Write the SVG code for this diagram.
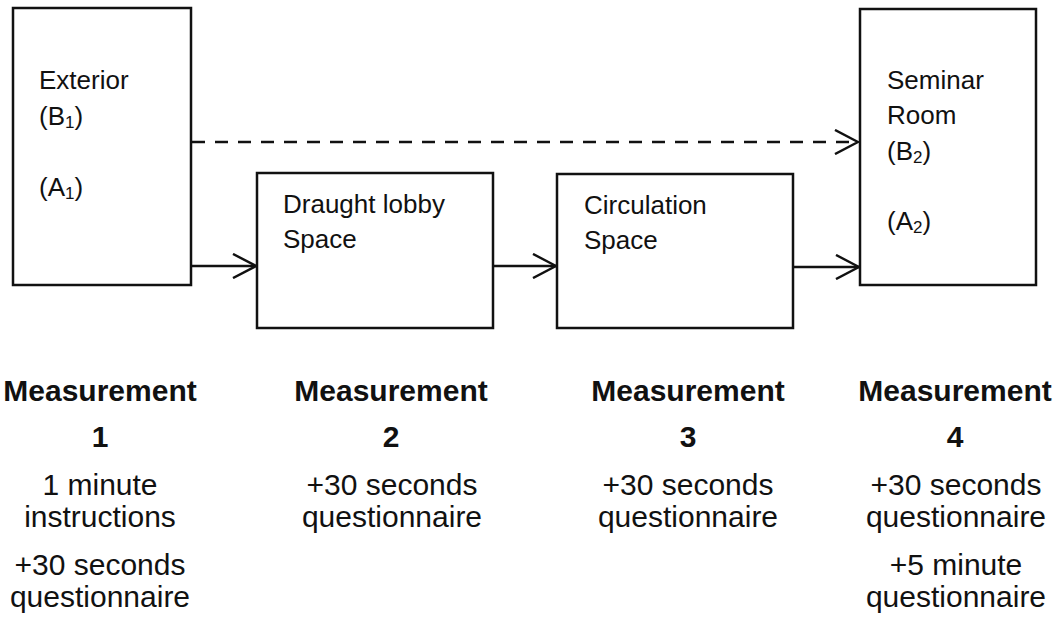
<svg xmlns="http://www.w3.org/2000/svg" width="1063" height="621" viewBox="0 0 1063 621">
  <style>
    .box { fill: #fff; stroke: #111; stroke-width: 2.5; }
    .lbl { font-family: "Liberation Sans", Arial, Helvetica, sans-serif; font-size: 26px; fill: #111; }
    .sub { font-size: 17px; }
    .head { font-family: "Liberation Sans", Arial, Helvetica, sans-serif; font-size: 30px; font-weight: bold; fill: #111; text-anchor: middle; }
    .note { font-family: "Liberation Sans", Arial, Helvetica, sans-serif; font-size: 30px; fill: #111; text-anchor: middle; }
    .conn { fill: none; stroke: #111; stroke-width: 2.5; }
    .dash { stroke-dasharray: 13 10; }
  </style>
  <defs>
    <marker id="chev" viewBox="0 0 26 26" refX="24" refY="13" markerWidth="26" markerHeight="26" markerUnits="userSpaceOnUse" orient="auto">
      <path d="M1,1 L24,13 L1,25" fill="none" stroke="#111" stroke-width="2.5" stroke-dasharray="none"/>
    </marker>
  </defs>
  <rect width="1063" height="621" fill="#fff"/>

  <g id="connectors">
    <line class="conn dash" x1="192" y1="142" x2="858" y2="142" marker-end="url(#chev)"/>
    <line class="conn" x1="192" y1="266" x2="256" y2="266" marker-end="url(#chev)"/>
    <line class="conn" x1="494" y1="266" x2="556" y2="266" marker-end="url(#chev)"/>
    <line class="conn" x1="794" y1="267" x2="859" y2="267" marker-end="url(#chev)"/>
  </g>

  <g id="exterior">
    <rect class="box" x="13" y="8" width="178" height="277"/>
    <text class="lbl" x="39" y="89">Exterior</text>
    <text class="lbl" x="39" y="125">(B<tspan class="sub" dy="3">1</tspan><tspan dy="-3">)</tspan></text>
    <text class="lbl" x="39" y="196">(A<tspan class="sub" dy="3">1</tspan><tspan dy="-3">)</tspan></text>
  </g>

  <g id="draught-lobby">
    <rect class="box" x="257" y="173" width="236" height="155"/>
    <text class="lbl" x="283" y="213">Draught lobby</text>
    <text class="lbl" x="283" y="248">Space</text>
  </g>

  <g id="circulation">
    <rect class="box" x="557" y="174" width="236" height="154"/>
    <text class="lbl" x="584" y="214">Circulation</text>
    <text class="lbl" x="584" y="249">Space</text>
  </g>

  <g id="seminar-room">
    <rect class="box" x="860" y="9" width="176" height="276"/>
    <text class="lbl" x="887" y="89">Seminar</text>
    <text class="lbl" x="887" y="124">Room</text>
    <text class="lbl" x="887" y="160">(B<tspan class="sub" dy="3">2</tspan><tspan dy="-3">)</tspan></text>
    <text class="lbl" x="887" y="230">(A<tspan class="sub" dy="3">2</tspan><tspan dy="-3">)</tspan></text>
  </g>

  <g id="measurement-1">
    <text class="head" x="100" y="401">Measurement</text>
    <text class="head" x="100" y="447">1</text>
    <text class="note" x="100" y="495">1 minute</text>
    <text class="note" x="100" y="527">instructions</text>
    <text class="note" x="100" y="575">+30 seconds</text>
    <text class="note" x="100" y="607">questionnaire</text>
  </g>

  <g id="measurement-2">
    <text class="head" x="391" y="401">Measurement</text>
    <text class="head" x="391" y="447">2</text>
    <text class="note" x="392" y="495">+30 seconds</text>
    <text class="note" x="392" y="527">questionnaire</text>
  </g>

  <g id="measurement-3">
    <text class="head" x="688" y="401">Measurement</text>
    <text class="head" x="688" y="447">3</text>
    <text class="note" x="688" y="495">+30 seconds</text>
    <text class="note" x="688" y="527">questionnaire</text>
  </g>

  <g id="measurement-4">
    <text class="head" x="955" y="401">Measurement</text>
    <text class="head" x="955" y="447">4</text>
    <text class="note" x="956" y="495">+30 seconds</text>
    <text class="note" x="956" y="527">questionnaire</text>
    <text class="note" x="956" y="575">+5 minute</text>
    <text class="note" x="956" y="607">questionnaire</text>
  </g>
</svg>
